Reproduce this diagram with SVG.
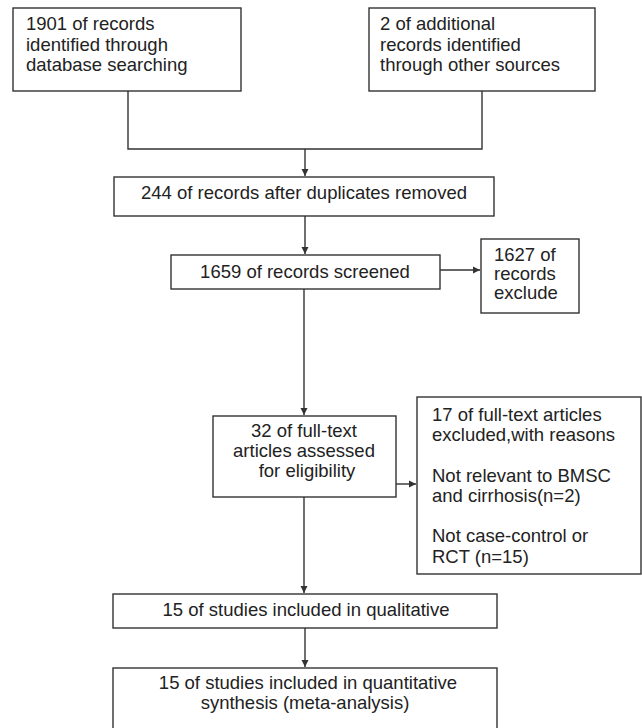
<svg xmlns="http://www.w3.org/2000/svg" width="642" height="728" viewBox="0 0 642 728">
<defs>
<style>
.box{fill:#fff;stroke:#333;stroke-width:1.4}
.ln{fill:none;stroke:#333;stroke-width:1.4}
text{font-family:"Liberation Sans",Arial,sans-serif;font-size:18.5px;fill:#222}
.c{text-anchor:middle}
</style>
<marker id="ah" markerWidth="8" markerHeight="8" refX="7" refY="4" orient="auto" markerUnits="userSpaceOnUse">
<path d="M0,0.5 L7,4 L0,7.5 Z" fill="#333"/>
</marker>
</defs>
<rect width="642" height="728" fill="#fff"/>
<g id="connectors">
<path class="ln" d="M128,91 V149 H482 V91"/>
<path class="ln" d="M305,149 V176" marker-end="url(#ah)"/>
<path class="ln" d="M305,216 V254" marker-end="url(#ah)"/>
<path class="ln" d="M440,270 H480" marker-end="url(#ah)"/>
<path class="ln" d="M304,289 V415" marker-end="url(#ah)"/>
<path class="ln" d="M396,484 H416" marker-end="url(#ah)"/>
<path class="ln" d="M304,497 V593" marker-end="url(#ah)"/>
<path class="ln" d="M305,628 V667" marker-end="url(#ah)"/>
</g>
<g id="n1">
<rect class="box" x="13" y="8" width="228" height="83"/>
<text x="26" y="30">1901 of records</text>
<text x="26" y="51">identified through</text>
<text x="26" y="71">database searching</text>
</g>
<g id="n2">
<rect class="box" x="369" y="8" width="226" height="83"/>
<text x="380" y="30">2 of additional</text>
<text x="380" y="51">records identified</text>
<text x="380" y="71">through other sources</text>
</g>
<g id="n3">
<rect class="box" x="114" y="177" width="380" height="39"/>
<text class="c" x="304" y="199">244 of records after duplicates removed</text>
</g>
<g id="n4">
<rect class="box" x="171" y="255" width="269" height="34"/>
<text class="c" x="305" y="278">1659 of records screened</text>
</g>
<g id="n5">
<rect class="box" x="481" y="239" width="98" height="74"/>
<text x="494" y="261">1627 of</text>
<text x="494" y="280">records</text>
<text x="494" y="299">exclude</text>
</g>
<g id="n6">
<rect class="box" x="213" y="416" width="183" height="81"/>
<text class="c" x="304" y="437">32 of full-text</text>
<text class="c" x="304" y="457">articles assessed</text>
<text class="c" x="307" y="477">for eligibility</text>
</g>
<g id="n7">
<rect class="box" x="417" y="397" width="224" height="177"/>
<text x="432" y="421">17 of full-text articles</text>
<text x="432" y="441">excluded,with reasons</text>
<text x="432" y="482">Not relevant to BMSC</text>
<text x="432" y="502">and cirrhosis(n=2)</text>
<text x="432" y="542">Not case-control or</text>
<text x="432" y="563">RCT (n=15)</text>
</g>
<g id="n8">
<rect class="box" x="113" y="594" width="384" height="34"/>
<text class="c" x="306" y="616">15 of studies included in qualitative</text>
</g>
<g id="n9">
<rect class="box" x="113" y="668" width="384" height="70"/>
<text class="c" x="308" y="689">15 of studies included in quantitative</text>
<text class="c" x="305" y="709">synthesis (meta-analysis)</text>
</g>
</svg>
